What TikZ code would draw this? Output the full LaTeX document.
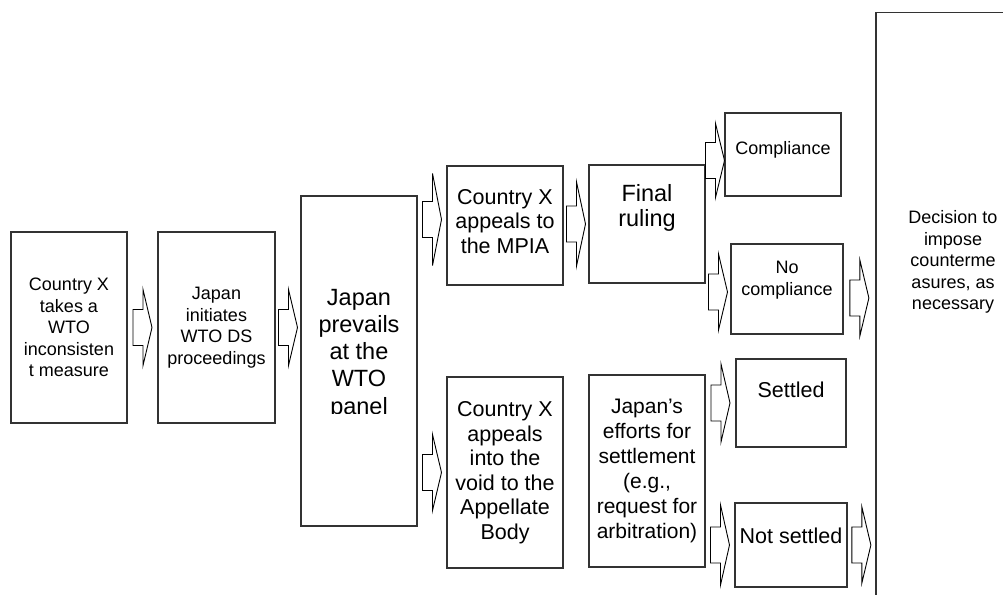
\documentclass[tikz,border=0pt]{standalone}
\usepackage{fontspec}
\setmainfont{Liberation Sans}
\usetikzlibrary{calc}

\tikzset{
    box/.style={draw=black!80, line width=1.5pt, fill=white, align=center, inner sep=1pt},
    smalltext/.style={font=\fontsize{18}{21.5}\selectfont},
    midtext/.style={font=\fontsize{21.5}{24.5}\selectfont},
    flow/.style={draw=black, line width=0.9pt, fill=white, line join=miter}
}

% block arrow between two boxes, height taken from the second point
\newcommand{\fatarrow}[3]{%
    \draw[flow] let \p1=#1, \p2=#2, \n1={(\x1+\x2)/2} in
        (\n1-9.5pt,\y2+18pt) -- (\n1+0.5pt,\y2+18pt) -- (\n1+0.5pt,\y2+#3)
        -- (\n1+9.5pt,\y2) -- (\n1+0.5pt,\y2-#3) -- (\n1+0.5pt,\y2-18pt)
        -- (\n1-9.5pt,\y2-18pt) -- cycle;}

\begin{document}
\begin{tikzpicture}[x=1pt, y=-1pt]
    \useasboundingbox (0,0) rectangle (1003,594);
    \clip (0,0) rectangle (1003,594);

    % Countermeasures
    \node[box, anchor=north west, minimum width=170, minimum height=640] (counter) at (875,12) {};
    \node[smalltext, align=center] (counter-t) at (953,262) {Decision to\\impose\\counterme\\asures, as\\necessary};

    % Start of the dispute
    \node[box, smalltext, minimum width=116, minimum height=191] (meas) at (69,327.5) {Country X\\takes a\\WTO\\inconsisten\\t measure};
    \node[box, smalltext, minimum width=117, minimum height=191] (init) at (216.5,327.5) {Japan\\initiates\\WTO DS\\proceedings};

    % Panel report
    \node[box, minimum width=116, minimum height=330] (panel) at (359,361) {};
    \begin{scope}
        \clip (panel.north west) rectangle ([yshift=-52pt]panel.east);
        \node[align=center, font=\fontsize{23.5}{27.3}\selectfont] (panel-t) at (359,354) {Japan\\prevails\\at the\\WTO\\panel};
    \end{scope}

    % Appeal to the MPIA
    \node[box, midtext, minimum width=116, minimum height=119] (mpia) at (505,225.5) {Country X\\appeals to\\the MPIA\\[-16pt]\mbox{}};
    \node[box, font=\fontsize{23.5}{25}\selectfont, minimum width=116, minimum height=118] (final) at (647,224) {Final\\ruling\\[12pt]\mbox{}};
    \node[box, smalltext, minimum width=116, minimum height=83] (comp) at (783,154.5) {Compliance\\[-9pt]\mbox{}};
    \node[box, smalltext, minimum width=112, minimum height=90] (nocomp) at (787,289) {No\\compliance\\ \mbox{}};

    % Appeal into the void
    \node[box, midtext, minimum width=116, minimum height=191] (void) at (505,472.5) {Country X\\appeals\\into the\\void to the\\Appellate\\Body};
    \node[box, font=\fontsize{21}{25}\selectfont, minimum width=116, minimum height=192] (settle) at (647,471) {Japan’s\\efforts for\\settlement\\(e.g.,\\request for\\arbitration)};
    \node[box, midtext, minimum width=110, minimum height=88] (settled) at (791,403) {Settled\\[1.5pt]\mbox{}};
    \node[box, midtext, minimum width=112, minimum height=84] (notset) at (791,545) {Not settled\\[-6.5pt]\mbox{}};

    % Arrows
    \fatarrow{(meas.east)}{(init.west)}{38pt}
    \fatarrow{(init.east)}{(init.east -| panel.west)}{38pt}
    \fatarrow{(panel.east)}{([yshift=6pt]mpia.west)}{46pt}
    \fatarrow{(panel.east)}{(void.west)}{38pt}
    \fatarrow{(mpia.east)}{(final.west)}{42pt}
    \fatarrow{(final.east)}{([yshift=-6pt]comp.west)}{37pt}
    \fatarrow{(final.east)}{([yshift=-3pt]nocomp.west)}{38pt}
    \fatarrow{(settle.east)}{(settled.west)}{39pt}
    \fatarrow{(settle.east)}{(notset.west)}{40pt}
    \fatarrow{(nocomp.east)}{($(nocomp.east -| counter.west)+(0,9)$)}{38pt}
    \fatarrow{(notset.east)}{(notset.east -| counter.west)}{38pt}
\end{tikzpicture}
\end{document}
